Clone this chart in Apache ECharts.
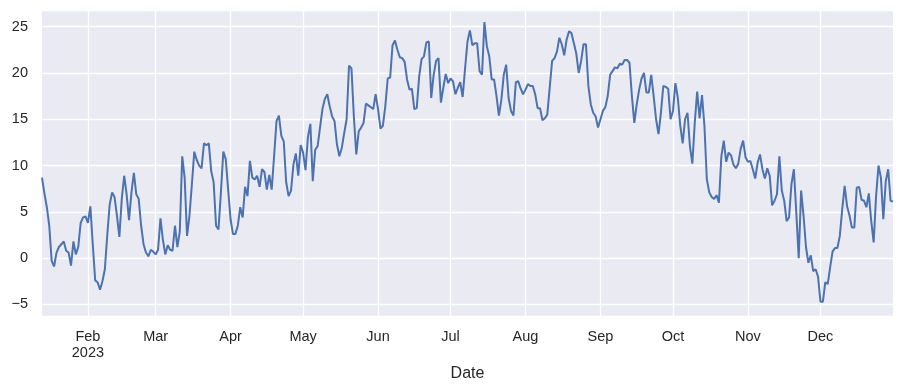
<!DOCTYPE html>
<html>
<head>
<meta charset="utf-8">
<script src="https://cdn.jsdelivr.net/npm/echarts@6/dist/echarts.min.js"></script>
<style>
  html, body { margin: 0; padding: 0; background: #ffffff; }
  #chart { width: 903px; height: 391px; }
</style>
</head>
<body>
<div id="chart"></div>
<script>
// Daily values, 2023-01-13 .. 2023-12-31, split by month
const startDate = '2023-01-13';
const jan = [8.7, 7.0, 5.5, 3.5, -0.3, -0.9, 0.6, 1.2, 1.5, 1.8, 0.8, 0.6, -0.8, 1.8, 0.4, 1.2, 3.8, 4.4, 4.5];
const feb = [3.8, 5.6, 1.5, -2.4, -2.6, -3.4, -2.5, -1.2, 2.5, 5.8, 7.1, 6.6, 4.6, 2.3, 6.4, 8.9, 6.9, 4.1, 7.1, 9.2, 6.9, 6.4, 3.5, 1.5, 0.6, 0.2, 0.9, 0.7];
const mar = [0.4, 0.9, 4.3, 2.0, 0.4, 1.4, 0.9, 0.8, 3.5, 1.2, 2.9, 11.0, 8.7, 2.4, 4.6, 8.0, 11.5, 10.6, 10.0, 9.7, 12.4, 12.2, 12.4, 9.4, 8.2, 3.5, 3.1, 7.1, 11.5, 10.7, 7.4];
const apr = [4.2, 2.6, 2.6, 3.5, 5.5, 4.4, 7.7, 6.7, 10.5, 8.7, 8.5, 8.9, 7.7, 9.6, 9.3, 7.4, 9.0, 7.4, 11.0, 14.8, 15.4, 13.2, 12.6, 8.2, 6.7, 7.3, 10.1, 11.3, 8.9, 12.2];
const may = [11.4, 9.5, 13.1, 14.5, 8.3, 11.7, 12.1, 14.1, 16.1, 17.2, 17.7, 16.4, 15.3, 14.8, 12.3, 11.0, 11.9, 13.5, 15.0, 20.8, 20.5, 15.3, 11.2, 13.7, 14.1, 14.6, 16.7, 16.5, 16.3, 16.1, 17.7];
const jun = [16.1, 14.0, 14.3, 16.4, 19.4, 19.5, 23.0, 23.5, 22.5, 21.7, 21.6, 21.2, 19.3, 18.2, 18.3, 16.1, 16.2, 19.6, 21.5, 21.8, 23.3, 23.4, 17.3, 19.8, 21.3, 21.6, 16.8, 18.4, 19.9, 18.9];
const jul = [19.4, 19.1, 17.7, 18.4, 19.0, 17.4, 20.5, 23.4, 24.6, 23.0, 23.2, 23.2, 20.2, 19.8, 25.5, 22.9, 21.8, 19.3, 19.3, 17.5, 15.4, 17.1, 19.8, 20.9, 17.3, 15.9, 15.4, 19.0, 19.1, 18.3, 17.7];
const aug = [18.2, 18.8, 18.6, 18.6, 17.7, 16.2, 16.2, 14.9, 15.1, 15.5, 18.4, 21.3, 21.6, 22.3, 23.8, 23.1, 21.9, 23.6, 24.5, 24.3, 23.2, 22.1, 20.0, 21.3, 23.1, 23.1, 18.6, 16.6, 15.7, 15.3, 14.1];
const sep = [15.0, 15.9, 16.3, 17.5, 19.8, 20.2, 20.6, 20.5, 21.0, 20.9, 21.4, 21.4, 21.1, 17.5, 14.6, 16.6, 18.2, 19.4, 20.0, 17.9, 17.9, 19.8, 17.5, 15.0, 13.4, 15.7, 18.6, 18.5, 18.3, 15.0];
const oct = [15.9, 18.9, 17.3, 14.3, 12.4, 15.0, 15.7, 12.1, 10.2, 14.6, 18.0, 15.1, 17.6, 14.3, 8.5, 7.1, 6.6, 6.4, 6.8, 6.0, 11.0, 12.7, 10.4, 11.4, 11.1, 10.1, 9.7, 10.2, 11.8, 12.7, 10.9];
const nov = [10.4, 10.5, 9.6, 8.6, 10.3, 11.2, 9.6, 8.6, 9.7, 8.9, 5.7, 6.2, 6.9, 11.0, 7.3, 6.2, 4.0, 4.4, 8.0, 9.6, 4.9, 0.0, 7.3, 4.6, 1.2, -0.5, 0.3, -1.4, -1.2, -2.0];
const dec = [-4.7, -4.7, -2.6, -2.8, -1.0, 0.7, 1.1, 1.1, 2.4, 5.3, 7.8, 5.6, 4.6, 3.3, 3.3, 7.6, 7.7, 6.3, 6.2, 5.5, 7.0, 4.0, 1.7, 6.7, 10.0, 8.7, 4.2, 8.3, 9.6, 6.2, 6.1];
const monthNames = ['Jan', 'Feb', 'Mar', 'Apr', 'May', 'Jun', 'Jul', 'Aug', 'Sep', 'Oct', 'Nov', 'Dec'];

const values = [].concat(jan, feb, mar, apr, may, jun, jul, aug, sep, oct, nov, dec);
const dates = [];
{
  const p = startDate.split('-').map(Number);
  const t0 = Date.UTC(p[0], p[1] - 1, p[2]);
  for (let i = 0; i < values.length; i++) {
    const d = new Date(t0 + i * 86400000);
    const mm = String(d.getUTCMonth() + 1).padStart(2, '0');
    const dd = String(d.getUTCDate()).padStart(2, '0');
    dates.push(d.getUTCFullYear() + '-' + mm + '-' + dd);
  }
}
const isMonthStart = (idx, val) => dates[idx].slice(8, 10) === '01';

const FONT = '"Liberation Sans", Arial, "DejaVu Sans", sans-serif';
const TXT = '#262626';

const chart = echarts.init(document.getElementById('chart'), null, { renderer: 'canvas' });
chart.setOption({
  animation: false,
  backgroundColor: '#ffffff',
  grid: {
    left: 42, right: 10, top: 10, bottom: 75,
    show: true, backgroundColor: '#EAEAF2', borderWidth: 0
  },
  xAxis: {
    type: 'category',
    data: dates,
    boundaryGap: false,
    name: 'Date',
    nameLocation: 'middle',
    nameGap: 49,
    nameTextStyle: { color: TXT, fontSize: 16, fontFamily: FONT },
    axisLine: { show: false },
    axisTick: { show: false },
    axisLabel: {
      interval: isMonthStart,
      margin: 13,
      color: TXT,
      fontSize: 14.5,
      lineHeight: 16,
      fontFamily: FONT,
      formatter: (v) => {
        const m = Number(v.slice(5, 7));
        return m === 2 ? monthNames[m - 1] + '\n' + v.slice(0, 4) : monthNames[m - 1];
      }
    },
    splitLine: { show: true, interval: isMonthStart, lineStyle: { color: '#ffffff', width: 1.3 } }
  },
  yAxis: {
    type: 'value',
    min: -6.25,
    max: 26.8,
    splitNumber: 7,
    axisLine: { show: false },
    axisTick: { show: false },
    axisLabel: {
      margin: 14,
      color: TXT,
      fontSize: 14.5,
      fontFamily: FONT,
      showMinLabel: false,
      showMaxLabel: false,
      formatter: (v) => (Math.abs(v % 5) < 1e-9 ? String(v).replace('-', '\u2212') : '')
    },
    splitLine: { show: true, lineStyle: { color: '#ffffff', width: 1.3 } }
  },
  series: [{
    type: 'line',
    data: values,
    showSymbol: false,
    symbol: 'none',
    lineStyle: { color: '#4C72B0', width: 2 },
    itemStyle: { color: '#4C72B0' }
  }]
});
</script>
</body>
</html>
